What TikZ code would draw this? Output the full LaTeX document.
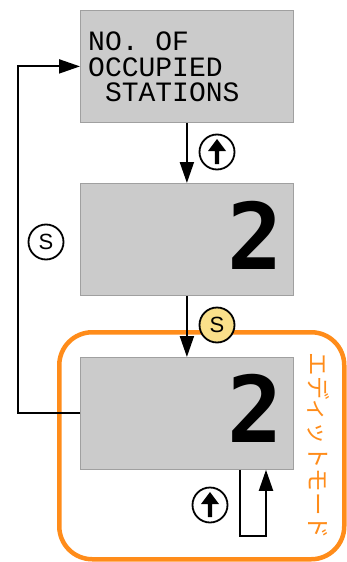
\documentclass[tikz,border=0pt]{standalone}
\usepackage{fontspec}
\setmainfont{Liberation Sans}
\newfontfamily\lcdfont{Liberation Mono}
\newfontfamily\digitfont{DejaVu Sans Mono}
\newfontfamily\jpfont{Noto Sans CJK JP}
\usetikzlibrary{arrows.meta}
\definecolor{boxfill}{HTML}{CBCBCB}
\definecolor{boxline}{HTML}{A0A0A0}
\definecolor{editc}{HTML}{FF8C1A}
\definecolor{skey}{HTML}{FAE08A}
\begin{document}
\begin{tikzpicture}[x=1pt,y=-1pt,
  lcd/.style={draw=boxline, fill=boxfill, line width=0.8pt, minimum width=213pt, minimum height=112pt, inner sep=0pt, anchor=north west},
  conn/.style={line width=2pt, -{Triangle[length=21pt,width=14pt]}},
  keyc/.style={circle, draw=black, line width=1.8pt, minimum size=35pt, inner sep=0pt, font=\fontsize{22}{22}\selectfont},
  lcdtext/.style={anchor=base west, inner sep=0pt, font=\lcdfont\fontsize{28}{28}\selectfont},
  digit/.style={anchor=base east, inner sep=0pt, font=\digitfont\bfseries\fontsize{92}{92}\selectfont},
  uparrow/.style={fill=black}
]
\useasboundingbox (0,0) rectangle (346,562);
% edit-mode frame
\node[draw=editc, line width=4.5pt, rounded corners=33pt, minimum width=285pt, minimum height=227pt, inner sep=0pt, anchor=north west] (edit) at (57,330) {};
\node[rotate=-90, text=editc, inner sep=0pt, font=\jpfont\fontsize{23.5}{23.5}\selectfont] (jp) at (319,446) {エディットモード};
% boxes
\node[lcd] (b1) at (80,10) {};
\node[lcd] (b2) at (80,183) {};
\node[lcd] (b3) at (80,357) {};
\node[lcdtext] (t1) at (88,50) {NO.\ OF};
\node[lcdtext] (t2) at (88,76) {OCCUPIED};
\node[lcdtext] (t3) at (88,101.5) {\hphantom{N}STATIONS};
\node[digit] (d2) at (283,269) {2};
\node[digit] (d3) at (283,442) {2};
% connectors
\coordinate (fb) at (18,0);
\coordinate (la) at (240,536);
\coordinate (lb) at (266,536);
\draw[conn] (b1.south) -- (b2.north);
\draw[conn] (b2.south) -- (b3.north);
\draw[conn] (b3.west) -- (b3.west -| fb) -- (b1.west -| fb) -- (b1.west);
\draw[conn] (b3.south -| la) -- (la) -- (lb) -- (b3.south -| lb);
% keys
\node[keyc] (sl) at (46,242) {S};
\node[keyc, fill=skey] (sy) at (217,325) {S};
\node[keyc] (u1) at (217,152) {};
\node[keyc] (u2) at (210,505) {};
\fill[uparrow, shift={(u1.center)}] (0,-13) -- (9,-1) -- (2.2,-1) -- (2.2,12) -- (-2.2,12) -- (-2.2,-1) -- (-9,-1) -- cycle;
\fill[uparrow, shift={(u2.center)}] (0,-13) -- (9,-1) -- (2.2,-1) -- (2.2,12) -- (-2.2,12) -- (-2.2,-1) -- (-9,-1) -- cycle;
\end{tikzpicture}
\end{document}
